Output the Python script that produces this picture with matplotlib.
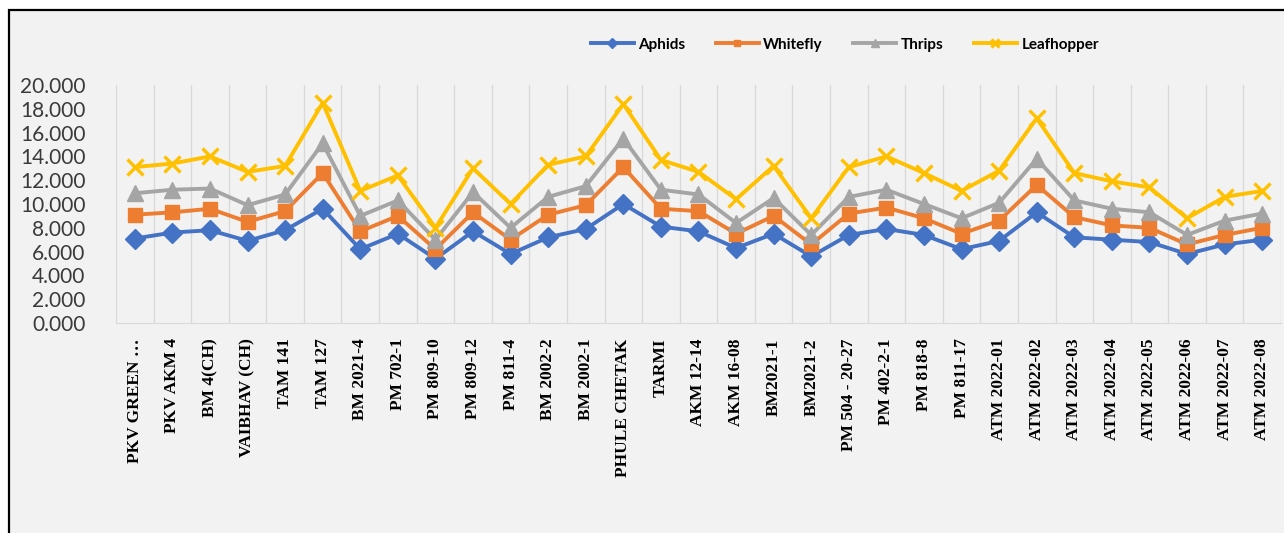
import matplotlib.pyplot as plt
from matplotlib.patches import Rectangle
from matplotlib.ticker import FixedLocator, FormatStrFormatter

# genotypes on the x axis
genotypes = ["PKV GREEN …", "PKV AKM 4", "BM 4(CH)", "VAIBHAV (CH)", "TAM 141",
             "TAM 127", "BM 2021-4", "PM 702-1", "PM 809-10", "PM 809-12",
             "PM 811-4", "BM 2002-2", "BM 2002-1", "PHULE CHETAK", "TARMI",
             "AKM 12-14", "AKM 16-08", "BM2021-1", "BM2021-2", "PM 504 - 20-27",
             "PM 402-2-1", "PM 818-8", "PM 811-17", "ATM 2022-01", "ATM 2022-02",
             "ATM 2022-03", "ATM 2022-04", "ATM 2022-05", "ATM 2022-06",
             "ATM 2022-07", "ATM 2022-08"]

# stacked levels of each pest line
aphids = [7.1, 7.6, 7.8, 6.9, 7.8, 9.6, 6.2, 7.5, 5.4, 7.7, 5.8, 7.2, 7.9, 10.0,
          8.1, 7.7, 6.3, 7.5, 5.6, 7.4, 7.9, 7.4, 6.2, 6.9, 9.3, 7.2, 7.0, 6.8,
          5.8, 6.6, 7.0]
whitefly = [9.1, 9.3, 9.6, 8.5, 9.4, 12.6, 7.7, 9.0, 6.2, 9.3, 7.0, 9.1, 9.9, 13.1,
            9.6, 9.4, 7.5, 9.0, 6.6, 9.2, 9.7, 8.8, 7.5, 8.6, 11.6, 8.9, 8.2, 8.0,
            6.6, 7.4, 8.0]
thrips = [10.9, 11.2, 11.3, 9.9, 10.8, 15.1, 9.0, 10.3, 7.0, 11.0, 8.0, 10.6, 11.5,
          15.5, 11.2, 10.8, 8.4, 10.5, 7.4, 10.6, 11.2, 10.0, 8.8, 10.1, 13.8,
          10.3, 9.6, 9.3, 7.4, 8.6, 9.2]
leafhopper = [13.1, 13.4, 14.0, 12.7, 13.2, 18.5, 11.1, 12.4, 8.0, 13.0, 10.0, 13.3,
              14.0, 18.4, 13.7, 12.7, 10.4, 13.2, 8.8, 13.1, 14.0, 12.6, 11.1, 12.8,
              17.2, 12.6, 11.9, 11.4, 8.8, 10.6, 11.1]

series = [("Aphids", aphids, "#4472C4", "D", 10),
          ("Whitefly", whitefly, "#ED7D31", "s", 10),
          ("Thrips", thrips, "#A5A5A5", "^", 11),
          ("Leafhopper", leafhopper, "#FFC000", "x", 11)]

fig = plt.figure(figsize=(12.84, 5.33), dpi=100, facecolor="white")

# grey chart area with the black frame
fig.patches.append(Rectangle((9 / 1284, -0.1), 1.2, 1.1 - 10 / 533,
                             transform=fig.transFigure, facecolor="#f2f2f2",
                             edgecolor="black", linewidth=1.6, zorder=-5))

ax = fig.add_axes([116 / 1284, 1 - 323 / 533, 1165 / 1284, (323 - 85) / 533])
ax.set_zorder(2)
ax.set_facecolor("#f2f2f2")

x = list(range(len(genotypes)))
for name, vals, color, mk, ms in series:
    ax.plot(x, vals, color=color, linewidth=2.8, marker=mk, markersize=ms,
            markeredgewidth=2.4 if mk == "x" else 1, label=name)

ax.set_xlim(-0.5, len(genotypes) - 0.5)
ax.set_ylim(0, 20)
ax.set_yticks(range(0, 21, 2))
ax.yaxis.set_major_formatter(FormatStrFormatter("%.3f"))
ax.set_xticks(x)
ax.set_xticklabels(genotypes, rotation=90, va="top", ha="center",
                   family="Liberation Serif", fontweight="bold", fontsize=12.5)

# vertical gridlines between categories
ax.xaxis.set_minor_locator(FixedLocator([i - 0.5 for i in range(len(genotypes) + 1)]))
ax.grid(which="minor", axis="x", color="#d9d9d9", linewidth=1)
ax.tick_params(axis="x", which="both", length=0, pad=11)
ax.tick_params(axis="y", length=0, pad=22, labelsize=15, labelcolor="#3a3a3a")
for lbl in ax.get_yticklabels():
    lbl.set_family("Lato")

for side in ("top", "right", "left"):
    ax.spines[side].set_visible(False)
ax.spines["bottom"].set_color("#d9d9d9")

fig.legend(loc="center", bbox_to_anchor=(0.658, 0.916), ncol=4, frameon=False,
           handlelength=2.8, handletextpad=0.3, columnspacing=2.0,
           markerscale=0.5,
           prop={"family": "Lato", "weight": "bold", "size": 11})

fig.savefig("out.png", dpi=100, facecolor=fig.get_facecolor())
